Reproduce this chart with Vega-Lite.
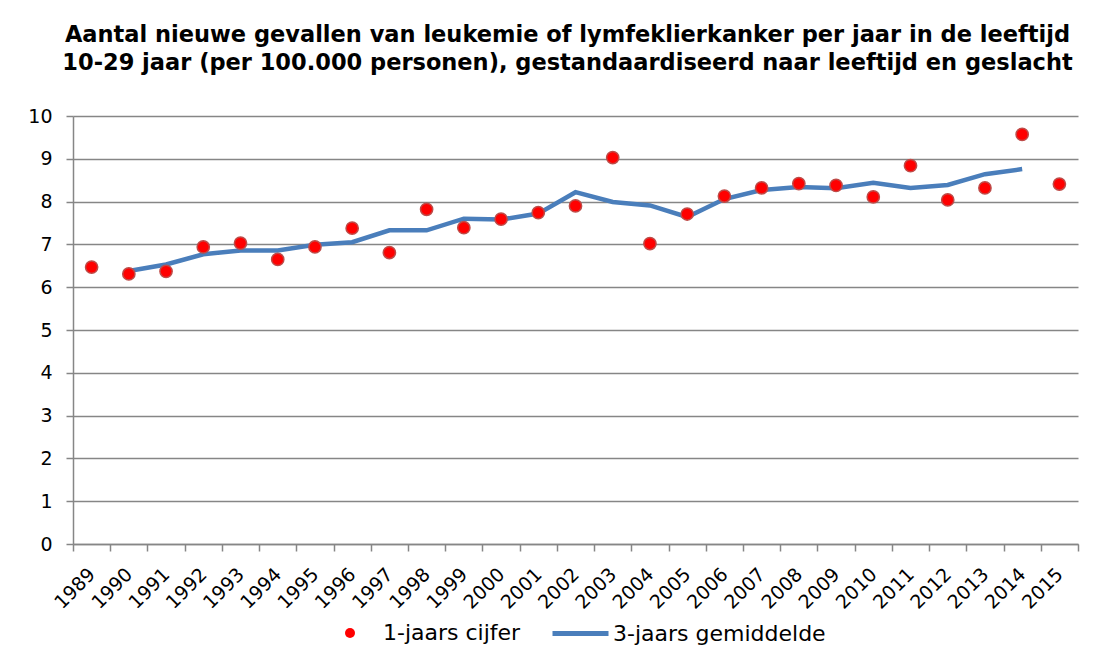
{
  "$schema": "https://vega.github.io/schema/vega-lite/v6.json",
  "autosize": "none",
  "width": 1005,
  "height": 428,
  "padding": {"left": 73, "top": 116, "right": 33, "bottom": 115},
  "background": "white",
  "config": {
    "font": "DejaVu Sans",
    "view": {"stroke": null}
  },
  "title": {
    "text": ["Aantal nieuwe gevallen van leukemie of lymfeklierkanker per jaar in de leeftijd", "10-29 jaar (per 100.000 personen), gestandaardiseerd naar leeftijd en geslacht"],
    "font": "DejaVu Sans",
    "fontSize": 22.5,
    "fontWeight": "bold",
    "color": "#000000",
    "anchor": "middle",
    "frame": "group",
    "offset": 33,
    "lineHeight": 28,
    "dx": -8
  },
  "datasets": {
    "jaar": [
      {"year": "1989", "value": 6.47}, {"year": "1990", "value": 6.31}, {"year": "1991", "value": 6.37},
      {"year": "1992", "value": 6.94}, {"year": "1993", "value": 7.03}, {"year": "1994", "value": 6.65},
      {"year": "1995", "value": 6.94}, {"year": "1996", "value": 7.38}, {"year": "1997", "value": 6.81},
      {"year": "1998", "value": 7.82}, {"year": "1999", "value": 7.39}, {"year": "2000", "value": 7.59},
      {"year": "2001", "value": 7.74}, {"year": "2002", "value": 7.90}, {"year": "2003", "value": 9.03},
      {"year": "2004", "value": 7.02}, {"year": "2005", "value": 7.71}, {"year": "2006", "value": 8.13},
      {"year": "2007", "value": 8.32}, {"year": "2008", "value": 8.42}, {"year": "2009", "value": 8.38},
      {"year": "2010", "value": 8.11}, {"year": "2011", "value": 8.84}, {"year": "2012", "value": 8.04},
      {"year": "2013", "value": 8.32}, {"year": "2014", "value": 9.57}, {"year": "2015", "value": 8.41}
    ],
    "gem": [
      {"year": "1990", "value": 6.38}, {"year": "1991", "value": 6.53}, {"year": "1992", "value": 6.77},
      {"year": "1993", "value": 6.86}, {"year": "1994", "value": 6.86}, {"year": "1995", "value": 6.99},
      {"year": "1996", "value": 7.05}, {"year": "1997", "value": 7.33}, {"year": "1998", "value": 7.33},
      {"year": "1999", "value": 7.60}, {"year": "2000", "value": 7.58}, {"year": "2001", "value": 7.72},
      {"year": "2002", "value": 8.22}, {"year": "2003", "value": 7.99}, {"year": "2004", "value": 7.91},
      {"year": "2005", "value": 7.64}, {"year": "2006", "value": 8.06}, {"year": "2007", "value": 8.27},
      {"year": "2008", "value": 8.34}, {"year": "2009", "value": 8.31}, {"year": "2010", "value": 8.44},
      {"year": "2011", "value": 8.32}, {"year": "2012", "value": 8.39}, {"year": "2013", "value": 8.64},
      {"year": "2014", "value": 8.76}
    ]
  },
  "encoding": {
    "x": {
      "field": "year",
      "type": "ordinal",
      "sort": "ascending",
      "scale": {"type": "band", "paddingInner": 0, "paddingOuter": 0},
      "axis": {
        "title": null,
        "labelAngle": -45,
        "labelAlign": "right",
        "labelBaseline": "middle",
        "labelFontSize": 19,
        "labelColor": "#000000",
        "labelPadding": 20,
        "tickBand": "extent",
        "tickSize": 7,
        "tickColor": "#868686",
        "tickWidth": 1.5,
        "domainColor": "#868686",
        "domainWidth": 1.5,
        "grid": false
      }
    },
    "y": {
      "field": "value",
      "type": "quantitative",
      "scale": {"domain": [0, 10], "nice": false},
      "axis": {
        "title": null,
        "values": [0, 1, 2, 3, 4, 5, 6, 7, 8, 9, 10],
        "labelFontSize": 19,
        "labelColor": "#000000",
        "labelPadding": 14,
        "tickSize": 7,
        "tickColor": "#868686",
        "tickWidth": 1.5,
        "domainColor": "#868686",
        "domainWidth": 1.5,
        "grid": true,
        "gridColor": "#868686",
        "gridWidth": 1.5
      }
    }
  },
  "layer": [
    {
      "data": {"name": "gem"},
      "mark": {"type": "line", "strokeWidth": 4.5},
      "encoding": {
        "stroke": {
          "datum": "3-jaars gemiddelde",
          "type": "nominal",
          "scale": {"range": ["#4A7EBB"]},
          "legend": {
            "orient": "none",
            "legendX": 477,
            "legendY": 487,
            "title": null,
            "symbolType": "stroke",
            "symbolSize": 3136,
            "symbolStrokeWidth": 5,
            "labelFontSize": 22,
            "labelColor": "#000000",
            "labelLimit": 400,
            "labelOffset": 2
          }
        }
      }
    },
    {
      "data": {"name": "jaar"},
      "mark": {"type": "circle", "size": 150, "opacity": 1, "stroke": "#BE4B48", "strokeWidth": 1.5},
      "encoding": {
        "fill": {
          "datum": "1-jaars cijfer",
          "type": "nominal",
          "scale": {"range": ["#FF0000"]},
          "legend": {
            "orient": "none",
            "legendX": 266,
            "legendY": 506,
            "title": null,
            "symbolSize": 100,
            "symbolStrokeWidth": 0,
            "labelFontSize": 22,
            "labelColor": "#000000",
            "labelLimit": 400,
            "labelOffset": 22
          }
        }
      }
    }
  ]
}
